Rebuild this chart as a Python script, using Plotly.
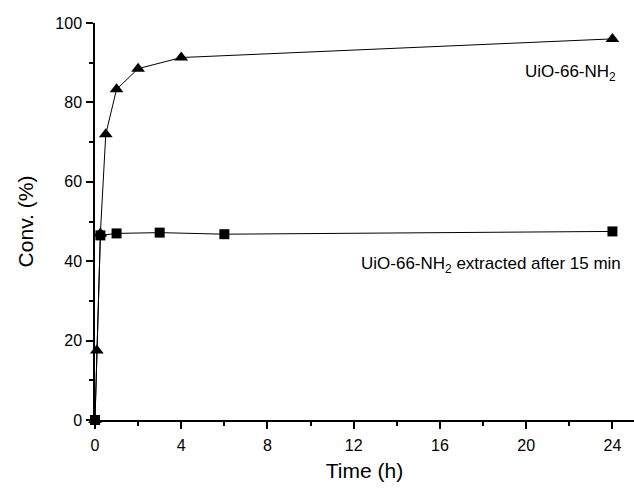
import plotly.graph_objects as go

# Data
tri_time = [0, 0.083, 0.25, 0.5, 1, 2, 4, 24]
tri_conv = [0, 17.5, 47.0, 72.0, 83.3, 88.5, 91.3, 96.0]
sq_time = [0, 0.25, 1, 3, 6, 24]
sq_conv = [0, 46.5, 47.0, 47.2, 46.8, 47.5]
x_ticks = [0, 4, 8, 12, 16, 20, 24]
y_ticks = [0, 20, 40, 60, 80, 100]
label_main = "UiO-66-NH<sub>2</sub>"
label_extr = "UiO-66-NH<sub>2</sub> extracted after 15 min"

FONT = "Liberation Sans, Arial, sans-serif"

fig = go.Figure()
fig.add_trace(go.Scatter(
    x=sq_time, y=sq_conv, mode="lines+markers",
    line=dict(color="black", width=1),
    marker=dict(symbol="square", size=10, color="black"),
    cliponaxis=False, showlegend=False))
fig.add_trace(go.Scatter(
    x=tri_time, y=tri_conv, mode="lines+markers",
    line=dict(color="black", width=1),
    marker=dict(symbol="triangle-up", size=12, color="black"),
    cliponaxis=False, showlegend=False))

fig.add_annotation(x=24.25, y=87.4, text=label_main, showarrow=False,
                   xanchor="right", yanchor="middle",
                   font=dict(family=FONT, size=17, color="black"))
fig.add_annotation(x=24.5, y=39, text=label_extr, showarrow=False,
                   xanchor="right", yanchor="middle",
                   font=dict(family=FONT, size=17, color="black"))

axis_common = dict(
    showline=True, linecolor="black", linewidth=1.5,
    ticks="outside", ticklen=7, tickwidth=1.5, tickcolor="black",
    showgrid=False, zeroline=False, mirror=False,
    tickfont=dict(family=FONT, size=16, color="black"),
)

fig.update_xaxes(
    **axis_common, range=[0, 25], tickvals=x_ticks, ticklabelstandoff=3,
    minor=dict(ticks="outside", ticklen=4, tickwidth=1.5, tickcolor="black",
               tick0=2, dtick=4, showgrid=False),
    title=dict(text="Time (h)", font=dict(family=FONT, size=21, color="black"), standoff=10),
)
fig.update_yaxes(
    **axis_common, range=[0, 100], tickvals=y_ticks, ticklabelstandoff=1,
    minor=dict(ticks="outside", ticklen=4, tickwidth=1.5, tickcolor="black",
               tick0=10, dtick=20, showgrid=False),
    title=dict(text="Conv. (%)", font=dict(family=FONT, size=21, color="black"), standoff=16),
)

fig.update_layout(
    width=634, height=488,
    margin=dict(l=95, r=0, t=23, b=68),
    plot_bgcolor="white", paper_bgcolor="white",
    font=dict(family=FONT, color="black"),
)

fig.write_html("out.html")
